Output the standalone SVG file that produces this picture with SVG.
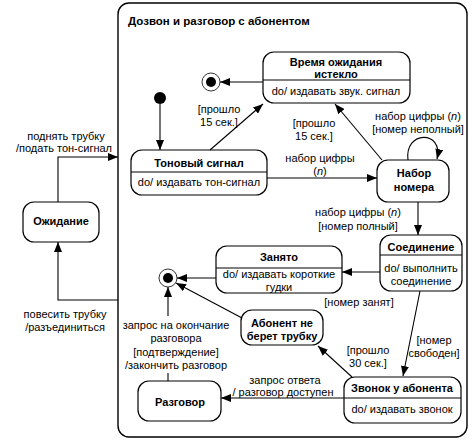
<svg xmlns="http://www.w3.org/2000/svg" width="475" height="444" viewBox="0 0 475 444">
<style>
text{font-family:"Liberation Sans",Arial,sans-serif;font-size:11px;fill:#000}
.b{font-weight:bold}
.t{text-anchor:middle}
.st{fill:#fff;stroke:#000;stroke-width:1.2}
.ln{fill:none;stroke:#000;stroke-width:1.1}
.e{stroke:#000;stroke-width:1.1;fill:none;marker-end:url(#a)}
</style>
<defs>
<marker id="a" markerUnits="userSpaceOnUse" markerWidth="10" markerHeight="8" refX="10" refY="4" orient="auto">
<path d="M0,0 L10,4 L0,8 Z" fill="#000"/>
</marker>
</defs>
<rect width="475" height="444" fill="#fff"/>
<g id="composite">
<rect x="118" y="3" width="349" height="434" rx="11" class="st" style="stroke-width:1.4"/>
<text x="128" y="25" class="b" style="font-size:11.5px">Дозвон и разговор с абонентом</text>
</g>
<g id="initial"><circle cx="160" cy="98" r="6" fill="#000"/></g>
<g id="final1"><circle cx="211" cy="82" r="9" fill="#fff" stroke="#000" stroke-width="0.8"/><circle cx="211" cy="82" r="5" fill="#000"/></g>
<g id="final2"><circle cx="168" cy="278" r="9" fill="#fff" stroke="#000" stroke-width="0.8"/><circle cx="168" cy="278" r="5" fill="#000"/></g>
<g id="timeout">
<rect x="263" y="52" width="147" height="51" rx="11" class="st"/>
<line x1="263" y1="80" x2="410" y2="80" class="ln"/>
<text x="336" y="66" class="b t">Время ожидания</text>
<text x="336" y="78" class="b t">истекло</text>
<text x="336" y="95" class="t">do/ издавать звук. сигнал</text>
</g>
<g id="dialtone">
<rect x="131" y="150" width="136" height="45" rx="11" class="st"/>
<line x1="131" y1="172" x2="267" y2="172" class="ln"/>
<text x="199" y="167" class="b t">Тоновый сигнал</text>
<text x="199" y="186" class="t">do/ издавать тон-сигнал</text>
</g>
<g id="dialing">
<rect x="377" y="160" width="72" height="42" rx="11" class="st"/>
<text x="414" y="177" class="b t">Набор</text>
<text x="414" y="191" class="b t">номера</text>
</g>
<g id="connecting">
<rect x="380" y="235" width="82" height="56" rx="11" class="st"/>
<line x1="380" y1="255" x2="462" y2="255" class="ln"/>
<text x="421" y="251" class="b t">Соединение</text>
<text x="421" y="272" class="t">do/ выполнить</text>
<text x="421" y="285" class="t">соединение</text>
</g>
<g id="busy">
<rect x="216" y="246" width="126" height="47" rx="11" class="st"/>
<line x1="216" y1="268" x2="342" y2="268" class="ln"/>
<text x="279" y="261" class="b t">Занято</text>
<text x="279" y="278" class="t">do/ издавать короткие</text>
<text x="279" y="291" class="t">гудки</text>
</g>
<g id="noanswer">
<rect x="241" y="310" width="82" height="35" rx="11" class="st"/>
<text x="282" y="327" class="b t">Абонент не</text>
<text x="282" y="340" class="b t">берет трубку</text>
</g>
<g id="ringing">
<rect x="344" y="377" width="117" height="46" rx="11" class="st"/>
<line x1="344" y1="398" x2="461" y2="398" class="ln"/>
<text x="402" y="392" class="b t">Звонок у абонента</text>
<text x="402" y="413" class="t">do/ издавать звонок</text>
</g>
<g id="talking">
<rect x="138" y="381" width="83" height="40" rx="11" class="st"/>
<text x="180" y="406" class="b t">Разговор</text>
</g>
<g id="idle">
<rect x="23" y="202" width="76" height="40" rx="11" class="st"/>
<text x="61" y="225" class="b t">Ожидание</text>
</g>
<g id="connectors">
<path d="M58,202 L58,157 L118,157" class="e"/>
<path d="M118,300 L58,300 L58,242" class="e"/>
<path d="M160,104 L160,150" class="e"/>
<path d="M263,82 L220,82" class="e"/>
<path d="M210,150 L263,104" class="e"/>
<path d="M382,160 L335,104" class="e"/>
<path d="M267,178 L377,178" class="e"/>
<path d="M408,160 C404,130 444,130 437,159" class="e"/>
<path d="M418,202 L418,235" class="e"/>
<path d="M380,272 L342,272" class="e"/>
<path d="M216,278 L177,278" class="e"/>
<path d="M242,318 L176,283" class="e"/>
<path d="M420,291 L403,376" class="e"/>
<path d="M352,377 L318,346" class="e"/>
<path d="M344,398 L221,398" class="e"/>
<line x1="168" y1="381" x2="168" y2="373" class="ln"/>
<path d="M168,316 L168,287" class="e"/>
<text x="66" y="140" class="t">поднять трубку</text>
<text x="64" y="152" class="t">/подать тон-сигнал</text>
<text x="65" y="318" class="t">повесить трубку</text>
<text x="65" y="331" class="t">/разъединиться</text>
<text x="219" y="113" class="t">[прошло</text>
<text x="219" y="126" class="t">15 сек.]</text>
<text x="314" y="127" class="t">[прошло</text>
<text x="314" y="140" class="t">15 сек.]</text>
<text x="418" y="120" class="t">набор цифры (<tspan font-style="italic">n</tspan>)</text>
<text x="418" y="133" class="t">[номер неполный]</text>
<text x="320" y="162" class="t">набор цифры</text>
<text x="320" y="175" class="t">(<tspan font-style="italic">n</tspan>)</text>
<text x="358" y="216" class="t">набор цифры (<tspan font-style="italic">n</tspan>)</text>
<text x="358" y="230" class="t">[номер полный]</text>
<text x="359" y="306" class="t">[номер занят]</text>
<text x="434" y="344" class="t">[номер</text>
<text x="434" y="357" class="t">свободен]</text>
<text x="368" y="354" class="t">[прошло</text>
<text x="368" y="367" class="t">30 сек.]</text>
<text x="285" y="384" class="t">запрос ответа</text>
<text x="283" y="396" class="t">/ разговор доступен</text>
<text x="176" y="329" class="t">запрос на окончание</text>
<text x="176" y="342" class="t">разговора</text>
<text x="176" y="356" class="t">[подтверждение]</text>
<text x="176" y="369" class="t">/закончить разговор</text>
</g>
</svg>
